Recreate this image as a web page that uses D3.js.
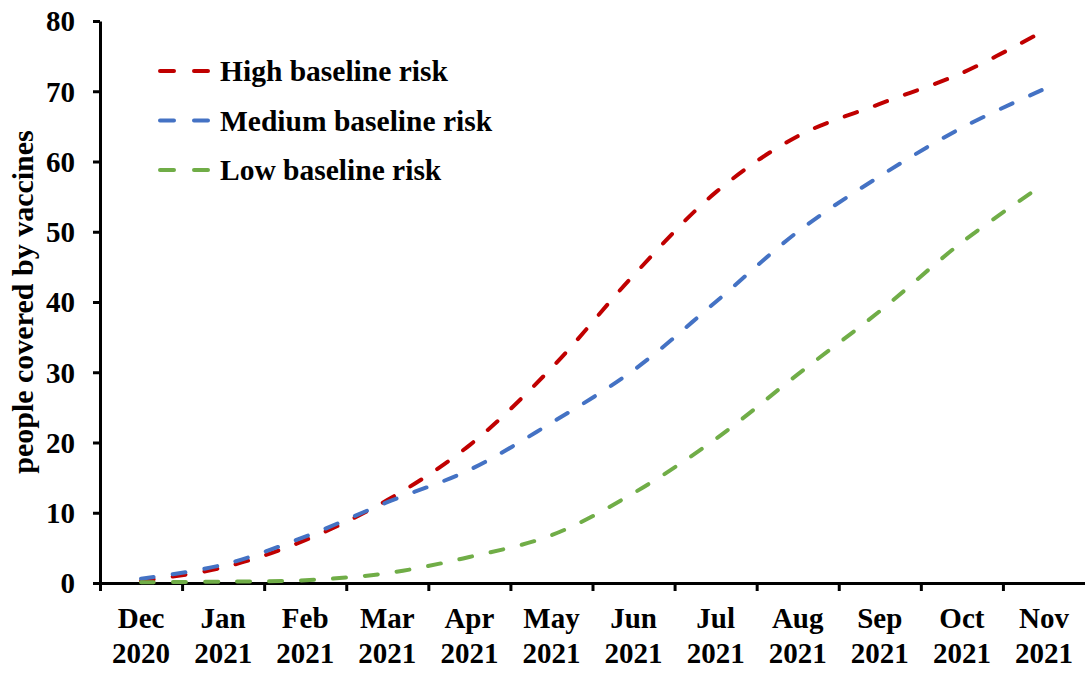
<!DOCTYPE html>
<html>
<head>
<meta charset="utf-8">
<script src="https://cdn.jsdelivr.net/npm/d3@7"></script>
<style>
  body { margin: 0; background: #fff; }
  text { font-family: "Liberation Serif", "Times New Roman", serif; font-weight: bold; fill: #000; }
</style>
</head>
<body>
<svg id="chart" width="1085" height="673"></svg>
<script>
// month labels (two lines each)
let months = ["Dec", "Jan", "Feb", "Mar", "Apr", "May", "Jun", "Jul", "Aug", "Sep", "Oct", "Nov"]
let years = ["2020", "2021", "2021", "2021", "2021", "2021", "2021", "2021", "2021", "2021", "2021", "2021"]

// series values
let high = [0.3, 2.2, 6.1, 11.8, 19.6, 30.6, 43.8, 55.6, 63.6, 68.2, 72.6, 78.6]
let medium = [0.6, 2.6, 6.6, 11.5, 16.1, 22.8, 30.3, 40.0, 50.0, 57.9, 64.8, 70.3]
let low = [0.1, 0.2, 0.4, 1.4, 3.7, 6.8, 12.8, 20.5, 29.7, 38.7, 48.5, 56.8]

let y_ticks = [0, 10, 20, 30, 40, 50, 60, 70, 80]

let series = [
  {name: "High baseline risk", values: high, color: "#C00000"},
  {name: "Medium baseline risk", values: medium, color: "#4472C4"},
  {name: "Low baseline risk", values: low, color: "#70AD47"}
]

let margin = {top: 21, right: 0, bottom: 90, left: 100}
let width = 1085, height = 673

let svg = d3.select("#chart")

let x = d3.scaleBand()
  .domain(months.map((m, i) => i))
  .range([margin.left, width - margin.right])
  .padding(0)

// boundaries between months, for the tick marks
let x_edges = d3.scaleLinear()
  .domain([0, months.length])
  .range([margin.left, width - margin.right])

let y = d3.scaleLinear()
  .domain([0, 80])
  .range([height - margin.bottom, margin.top])

// y axis
let y_axis = d3.axisLeft(y)
  .tickValues(y_ticks)
  .tickSize(7)
  .tickPadding(18)
  .tickSizeOuter(0)

svg.append("g")
  .attr("transform", `translate(${margin.left}, 0)`)
  .call(y_axis)
  .call(g => g.selectAll("text").style("font-size", "29px").attr("dy", "0.34em"))
  .call(g => g.selectAll("line, path").attr("stroke", "#000").attr("stroke-width", 3))

// x axis: ticks between months
let x_axis = d3.axisBottom(x_edges)
  .tickValues(d3.range(0, months.length))
  .tickSize(8)
  .tickSizeOuter(0)
  .tickFormat("")

svg.append("g")
  .attr("transform", `translate(0, ${y(0)})`)
  .call(x_axis)
  .call(g => g.selectAll("line, path").attr("stroke", "#000").attr("stroke-width", 3))

// month labels
let labels = svg.append("g")
labels.selectAll("text.month")
  .data(months).enter()
  .append("text")
  .attr("class", "month")
  .attr("x", (d, i) => x(i) + x.bandwidth() / 2)
  .attr("y", 628)
  .attr("text-anchor", "middle")
  .style("font-size", "29px")
  .text(d => d)

labels.selectAll("text.year")
  .data(years).enter()
  .append("text")
  .attr("class", "year")
  .attr("x", (d, i) => x(i) + x.bandwidth() / 2)
  .attr("y", 663)
  .attr("text-anchor", "middle")
  .style("font-size", "29px")
  .text(d => d)

// y axis title
svg.append("text")
  .attr("transform", `translate(33, ${(y(0) + y(80)) / 2}) rotate(-90)`)
  .attr("text-anchor", "middle")
  .style("font-size", "30px")
  .text("people covered by vaccines")

// lines
let line = d3.line()
  .x((d, i) => x(i) + x.bandwidth() / 2)
  .y(d => y(d))
  .curve(d3.curveCatmullRom.alpha(0.5))

svg.append("g")
  .selectAll("path")
  .data(series).enter()
  .append("path")
  .attr("d", d => line(d.values))
  .attr("fill", "none")
  .attr("stroke", d => d.color)
  .attr("stroke-width", 4)
  .attr("stroke-linecap", "round")
  .attr("stroke-dasharray", "13,19")

// legend
let legend = svg.append("g")
  .selectAll("g")
  .data(series).enter()
  .append("g")
  .attr("transform", (d, i) => `translate(158, ${71 + i * 49.5})`)

legend.append("line")
  .attr("x1", 2).attr("x2", 52)
  .attr("stroke", d => d.color)
  .attr("stroke-width", 4)
  .attr("stroke-linecap", "round")
  .attr("stroke-dasharray", "14,20")

legend.append("text")
  .attr("x", 62)
  .attr("dy", "0.34em")
  .style("font-size", "29.5px")
  .text(d => d.name)
</script>
</body>
</html>
